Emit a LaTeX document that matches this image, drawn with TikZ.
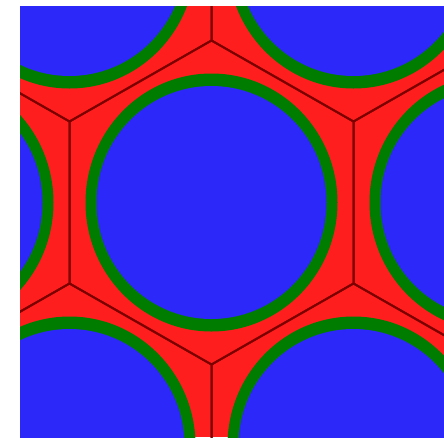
\documentclass[tikz,border=0pt]{standalone}
\definecolor{cellblue}{RGB}{45,40,250}
\definecolor{gapred}{RGB}{255,30,30}
\definecolor{ringgreen}{RGB}{0,125,0}
\definecolor{edgered}{RGB}{125,0,0}
\tikzset{
  hexedge/.style={draw=edgered, line width=2pt, line join=miter},
  ring/.style={fill=ringgreen},
  core/.style={fill=cellblue}
}
\begin{document}
\begin{tikzpicture}[x=1pt,y=-1pt]
\useasboundingbox (0,0) rectangle (444,437);
\fill[white] (0,0) rectangle (444,437);
\begin{scope}
\clip (20,6) rectangle (444,437);
\fill[gapred] (20,6) rectangle (444,437);
\foreach \cx/\cy in {-72.5/202.5, 211.5/202.5, 495.5/202.5, 69.5/-40.5, 353.5/-40.5, 69.5/445.5, 353.5/445.5, -214.5/-40.5, 637.5/-40.5, -214.5/445.5, 637.5/445.5}{
  \draw[hexedge] (\cx,\cy-162) -- (\cx+142,\cy-81) -- (\cx+142,\cy+81) -- (\cx,\cy+162) -- (\cx-142,\cy+81) -- (\cx-142,\cy-81) -- cycle;
}
\foreach \cx/\cy in {-72.5/202.5, 211.5/202.5, 495.5/202.5, 69.5/-40.5, 353.5/-40.5, 69.5/445.5, 353.5/445.5}{
  \fill[ring] (\cx,\cy) ellipse [x radius=126pt, y radius=129pt];
  \fill[core] (\cx,\cy) ellipse [x radius=115pt, y radius=116.5pt];
}
\end{scope}
\end{tikzpicture}
\end{document}
